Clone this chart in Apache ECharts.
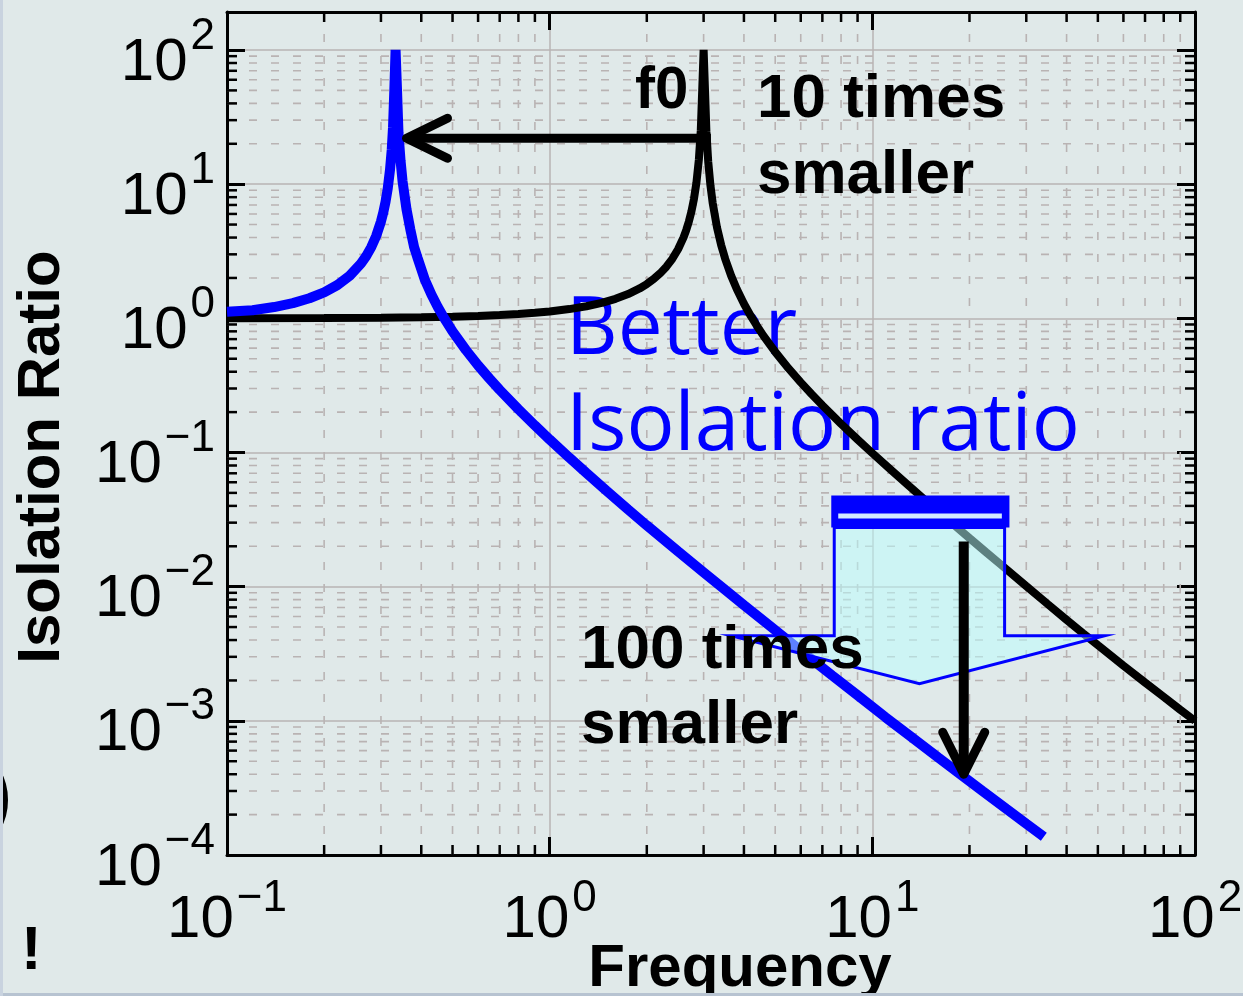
<!DOCTYPE html>
<html>
<head>
<meta charset="utf-8">
<script src="https://cdn.jsdelivr.net/npm/echarts@6/dist/echarts.min.js"></script>
<style>
  html, body { margin: 0; padding: 0; background: #e0e9e9; overflow: hidden; }
  #chart { width: 1243px; height: 996px; }
</style>
</head>
<body>
<div id="chart"></div>
<script>
// Isolation ratio (transmissibility) of the original mount, resonance f0 = 3
const stiffFreq  = [0.1, 0.2, 0.3, 0.4, 0.5, 0.6, 0.7, 0.8, 0.9, 1.0, 1.15, 1.3, 1.45, 1.6, 1.75, 1.9, 2.0, 2.1, 2.2, 2.3, 2.4,
                    2.5, 2.6, 2.65, 2.7, 2.75, 2.8, 2.85, 2.9, 2.94, 2.97, 3.0, 3.03, 3.06, 3.1, 3.15, 3.2, 3.3, 3.4, 3.5, 3.65,
                    3.8, 4.0, 4.2, 4.4, 4.6, 5, 5.5, 6, 6.5, 7, 8, 9, 10, 11.5, 13, 14.5, 16, 18, 20, 22.5, 25, 30, 35, 40,
                    45, 50, 60, 70, 80, 90, 100];
const stiffRatio = [1.001, 1.0045, 1.0101, 1.0181, 1.0286, 1.0417, 1.0576, 1.0766, 1.0989, 1.125, 1.172, 1.231, 1.305, 1.398,
                    1.516, 1.670, 1.80, 1.961, 2.164, 2.426, 2.778, 3.273, 4.018, 4.551, 5.263, 6.261, 7.759, 10.26, 15.25,
                    25.25, 50.2, 100, 49.8, 24.8, 14.75, 9.76, 7.26, 4.76, 3.52, 2.77, 2.08, 1.654, 1.286, 1.042, 0.869,
                    0.740, 0.5625, 0.4235, 0.3333, 0.2707, 0.225, 0.1636, 0.125, 0.0989, 0.0730, 0.05625, 0.04472, 0.03644,
                    0.02857, 0.02302, 0.0181, 0.01464, 0.0101, 0.0074, 0.00566, 0.00449, 0.00366, 0.00258, 0.00193, 0.00151,
                    0.00121, 0.00100];

// Softer mount: resonance ten times lower, better isolation above it
const softFreq  = [0.1, 0.12, 0.14, 0.16, 0.18, 0.2, 0.22, 0.24, 0.26, 0.27, 0.28, 0.29, 0.3, 0.305, 0.31, 0.315, 0.32, 0.324,
                   0.327, 0.33, 0.333, 0.336, 0.34, 0.345, 0.35, 0.36, 0.37, 0.38, 0.39, 0.41, 0.43, 0.45, 0.47, 0.5, 0.55,
                   0.6, 0.65, 0.7, 0.8, 0.9, 1.0, 1.15, 1.3, 1.5, 1.75, 2.0, 2.5, 3.0, 3.5, 4.0, 5.0, 6.0, 7.5, 9, 11, 13,
                   16, 19, 22, 26, 30, 34];
const softRatio = [1.12, 1.149, 1.214, 1.299, 1.412, 1.5625, 1.772, 2.077, 2.554, 2.908, 3.397, 4.113, 5.263, 6.14, 7.40, 9.35,
                   12.76, 18.1, 26.6, 50, 100, 55, 24, 15, 10.5, 6.5, 4.6, 3.4, 2.8, 1.95, 1.506, 1.216, 1.012, 0.80, 0.581,
                   0.446, 0.357, 0.293, 0.210, 0.159, 0.125, 0.0917, 0.0704, 0.0519, 0.0376, 0.0286, 0.0183, 0.0128, 0.00946,
                   0.00729, 0.00474, 0.00334, 0.00218, 0.00155, 0.00106, 0.000781, 0.000533, 0.000390, 0.000299, 0.000221,
                   0.000171, 0.000137];

// Axis decades and the in-between (minor) multipliers
const freqDecades  = [0.1, 1, 10];
const ratioDecades = [1e-4, 1e-3, 1e-2, 1e-1, 1, 10, 100];
const minorSteps   = [2, 3, 4, 5, 6, 7, 8, 9];

const FREQ_MIN = 0.1, FREQ_MAX = 100;
const RATIO_MIN = 1e-4, RATIO_MAX = 192;

const SANS = '"Liberation Sans", Arial, Helvetica, sans-serif';
const GRID_COLOR = '#b9b3b3';

const pairs = (xs, ys) => xs.map((x, i) => [x, ys[i]]);

// minor grid items: [freq, ratio, kind]  kind 0 = vertical line, 1 = horizontal line
const minorItems = [];
freqDecades.forEach(d => minorSteps.forEach(k => {
  const v = d * k;
  if (v > FREQ_MIN && v < FREQ_MAX) minorItems.push([v, 1, 0]);
}));
ratioDecades.forEach(d => minorSteps.forEach(k => {
  const v = d * k;
  if (v > RATIO_MIN && v < RATIO_MAX) minorItems.push([1, v, 1]);
}));

// 10^n tick labels with a raised exponent
function powerLabel(v) {
  const lg = Math.log10(v);
  const n = Math.round(lg);
  if (Math.abs(lg - n) > 1e-6) return '';
  return '{b|10}{s|' + (n < 0 ? '\u2212' + (-n) : String(n)) + '}';
}
const richFor = padTop => ({
  b: { fontFamily: SANS, fontSize: 60, lineHeight: 60, padding: [padTop, 0, 0, 0], color: '#000' },
  s: { fontFamily: SANS, fontSize: 44, lineHeight: 44, verticalAlign: 'top', padding: [0, 0, 0, 3], color: '#000' }
});

const chart = echarts.init(document.getElementById('chart'), null, { renderer: 'canvas' });

function renderMinorGrid(params, api) {
  const cs = params.coordSys;
  const kind = api.value(2);
  const dash = { stroke: GRID_COLOR, lineWidth: 1.6, lineDash: [8, 14] };
  const tick = { stroke: '#000', lineWidth: 2.5 };
  const left = cs.x, right = cs.x + cs.width, top = cs.y, bottom = cs.y + cs.height;
  if (kind === 0) {
    const px = api.coord([api.value(0), 1])[0];
    return { type: 'group', children: [
      { type: 'line', shape: { x1: px, y1: top, x2: px, y2: bottom }, style: dash },
      { type: 'line', shape: { x1: px, y1: bottom, x2: px, y2: bottom - 10 }, style: tick },
      { type: 'line', shape: { x1: px, y1: top, x2: px, y2: top + 10 }, style: tick }
    ]};
  }
  const py = api.coord([1, api.value(1)])[1];
  return { type: 'group', children: [
    { type: 'line', shape: { x1: left, y1: py, x2: right, y2: py }, style: dash },
    { type: 'line', shape: { x1: left, y1: py, x2: left + 10, y2: py }, style: tick },
    { type: 'line', shape: { x1: right, y1: py, x2: right - 10, y2: py }, style: tick }
  ]};
}

// Annotations placed in (frequency, ratio) units
function renderAnnotations(params, api) {
  const P = (f, r) => api.coord([f, r]);
  const rectOf = (a, b) => ({ x: Math.min(a[0], b[0]), y: Math.min(a[1], b[1]),
                              width: Math.abs(b[0] - a[0]), height: Math.abs(b[1] - a[1]) });

  // block arrow pointing down: body, head and a striped top edge
  const outline = [[7.62, 0.0276], [7.62, 0.00431], [3.65, 0.00431], [14.0, 0.00189],
                   [52.5, 0.00431], [25.7, 0.00431], [25.7, 0.0276]].map(p => P(p[0], p[1]));
  const bar = rectOf(P(7.46, 0.0478), P(26.6, 0.0276));
  const stripe = rectOf(P(7.84, 0.0351), P(25.2, 0.0322));

  // resonance shift arrow (f0 -> f0 / 10)
  const hStart = P(3.16, 22), hTip = P(0.36, 22);
  // attenuation arrow (100 times smaller)
  const vStart = P(19.2, 0.0217), vTip = P(19.2, 4.0e-4);

  return { type: 'group', children: [
    { type: 'polygon', shape: { points: outline },
      style: { fill: 'rgba(185,255,255,0.5)', stroke: '#0000ff', lineWidth: 3, lineJoin: 'miter' } },
    { type: 'rect', shape: bar, style: { fill: '#0000ff' } },
    { type: 'rect', shape: stripe, style: { fill: 'rgba(228,255,255,0.92)' } },

    { type: 'line', shape: { x1: hStart[0], y1: hStart[1], x2: hTip[0] + 3, y2: hTip[1] },
      style: { stroke: '#000', lineWidth: 9, lineCap: 'butt' } },
    { type: 'polyline', shape: { points: [[hTip[0] + 41, hTip[1] - 20], hTip, [hTip[0] + 41, hTip[1] + 20]] },
      style: { stroke: '#000', lineWidth: 9, lineCap: 'round', lineJoin: 'round', fill: null } },

    { type: 'line', shape: { x1: vStart[0], y1: vStart[1], x2: vTip[0], y2: vTip[1] - 3 },
      style: { stroke: '#000', lineWidth: 10, lineCap: 'butt' } },
    { type: 'polyline', shape: { points: [[vTip[0] - 21, vTip[1] - 42], vTip, [vTip[0] + 21, vTip[1] - 42]] },
      style: { stroke: '#000', lineWidth: 9, lineCap: 'round', lineJoin: 'round', fill: null } }
  ]};
}

const boxAxisLine = { show: true, onZero: false, lineStyle: { color: '#000', width: 3 } };
const majorTick = { show: true, inside: true, length: 18, lineStyle: { color: '#000', width: 3 } };
const majorGrid = { show: true, lineStyle: { color: GRID_COLOR, width: 1.5, type: 'solid' } };

const option = {
  backgroundColor: '#e0e9e9',
  animation: false,
  grid: { left: 227, right: 48, top: 12, bottom: 141, containLabel: false, outerBoundsMode: 'none' },
  xAxis: [
    {
      type: 'log', logBase: 10, min: FREQ_MIN, max: FREQ_MAX, position: 'bottom',
      axisLine: boxAxisLine, axisTick: majorTick, splitLine: majorGrid,
      axisLabel: { formatter: powerLabel, rich: richFor(27), margin: 22, color: '#000' },
      name: 'Frequency', nameLocation: 'middle', nameGap: 84, nameMoveOverlap: false,
      nameTextStyle: { fontFamily: SANS, fontSize: 60, fontWeight: 'bold', color: '#000',
                       lineHeight: 60, padding: [0, 0, 0, 58] }
    },
    {
      type: 'log', logBase: 10, min: FREQ_MIN, max: FREQ_MAX, position: 'top',
      axisLine: boxAxisLine, axisTick: majorTick, splitLine: { show: false }, axisLabel: { show: false }
    }
  ],
  yAxis: [
    {
      type: 'log', logBase: 10, min: RATIO_MIN, max: RATIO_MAX, position: 'left',
      axisLine: boxAxisLine, axisTick: majorTick, splitLine: majorGrid,
      axisLabel: { formatter: powerLabel, rich: richFor(37), padding: [0, 0, 11, 0], margin: 12, color: '#000' },
      name: 'Isolation Ratio', nameLocation: 'middle', nameGap: 155, nameMoveOverlap: false,
      nameTextStyle: { fontFamily: SANS, fontSize: 60, fontWeight: 'bold', color: '#000',
                       lineHeight: 60, padding: [0, 47, 0, 0] }
    },
    {
      type: 'log', logBase: 10, min: RATIO_MIN, max: RATIO_MAX, position: 'right',
      axisLine: boxAxisLine, axisTick: majorTick, splitLine: { show: false }, axisLabel: { show: false }
    }
  ],
  series: [
    {
      type: 'custom', name: 'minor grid', coordinateSystem: 'cartesian2d',
      xAxisIndex: 0, yAxisIndex: 0, z: 1, silent: true, clip: false,
      data: minorItems, renderItem: renderMinorGrid
    },
    {
      type: 'line', name: 'f0 = 3', xAxisIndex: 0, yAxisIndex: 0, z: 2,
      data: pairs(stiffFreq, stiffRatio), showSymbol: false, symbol: 'none', clip: true,
      itemStyle: { color: '#000' },
      lineStyle: { color: '#000', width: 8 }, emphasis: { disabled: true }
    },
    {
      type: 'line', name: 'f0 / 10', xAxisIndex: 0, yAxisIndex: 0, z: 2,
      data: pairs(softFreq, softRatio), showSymbol: false, symbol: 'none', clip: true,
      itemStyle: { color: '#0000ff' },
      lineStyle: { color: '#0000ff', width: 10 }, emphasis: { disabled: true }
    },
    {
      type: 'custom', name: 'annotations', coordinateSystem: 'cartesian2d',
      xAxisIndex: 0, yAxisIndex: 0, z: 4, silent: true, clip: false,
      data: [[1, 1]], renderItem: renderAnnotations
    }
  ],
  graphic: { elements: [
    { type: 'text', z: 1.5, left: 566, top: 283, silent: true,
      style: { text: 'Better\nIsolation ratio', fill: '#0000ff', lineHeight: 96,
               font: '80px "Open Sans", "Noto Sans", sans-serif' } },
    { type: 'text', z: 10, left: 635, top: 61, silent: true,
      style: { text: 'f0', fill: '#000', lineHeight: 60, font: 'bold 60px ' + SANS } },
    { type: 'text', z: 10, left: 757, top: 62, silent: true,
      style: { text: '10 times\nsmaller', fill: '#000', lineHeight: 76, font: 'bold 62px ' + SANS } },
    { type: 'text', z: 10, left: 581, top: 613, silent: true,
      style: { text: '100 times\nsmaller', fill: '#000', lineHeight: 75, font: 'bold 62px ' + SANS } },
    { type: 'text', z: 10, left: 21, top: 921, silent: true,
      style: { text: '!', fill: '#000', lineHeight: 60, font: 'bold 62px ' + SANS } },
    { type: 'circle', z: 10, silent: true, shape: { cx: -52, cy: 800, r: 56 },
      style: { fill: null, stroke: '#000', lineWidth: 8 } },
    { type: 'rect', z: 10, silent: true, shape: { x: 0, y: 993, width: 1243, height: 3 },
      style: { fill: '#b7c3d1' } },
    { type: 'rect', z: 10, silent: true, shape: { x: 0, y: 0, width: 3, height: 996 },
      style: { fill: '#c9d3df' } }
  ]}
};

chart.setOption(option);
</script>
</body>
</html>
